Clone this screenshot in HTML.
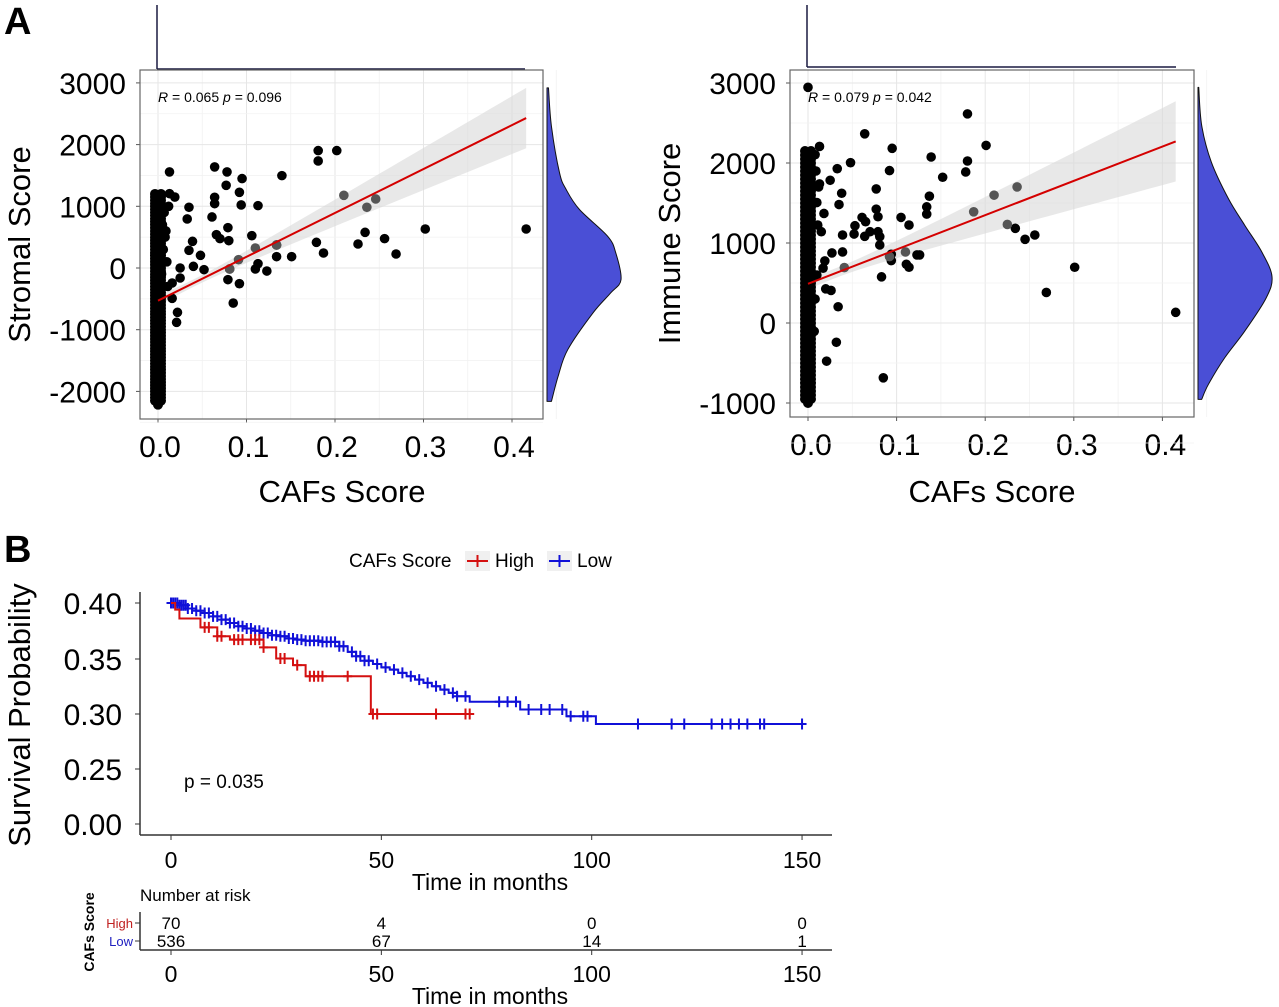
<!DOCTYPE html>
<html><head><meta charset="utf-8">
<style>
html,body{margin:0;padding:0;background:#fff;}
svg{display:block;font-family:"Liberation Sans",Arial,sans-serif;}
</style></head>
<body>
<svg id="fig" width="1279" height="1007" viewBox="0 0 1279 1007" xmlns="http://www.w3.org/2000/svg">
<text x="4" y="34" font-size="38" font-weight="bold">A</text>
<text x="4" y="562" font-size="38" font-weight="bold">B</text>
<g id="s1"></g>
<g id="s2"></g>
<g id="km"></g>
</svg>
<script>
// ---------- Scatter 1 data (Stromal) ----------
const s1X = [0.013,0.013,0.019,0.035,0.033,0.039,0.035,0.048,0.025,0.04,0.052,0.025,0.016,0.016,0.022,0.021,0.064,0.078,0.077,0.095,0.092,0.094,0.113,0.064,0.064,0.061,0.079,0.066,0.07,0.08,0.106,0.14,0.081,0.079,0.092,0.085,0.113,0.11,0.123,0.134,0.134,0.151,0.179,0.187,0.181,0.181,0.202,0.234,0.226,0.256,0.269,0.302,0.416,0.005,0.008,0.006,0.01,0.004,0.007,0.012,0.009,0.011];
const s1Y = [1557,1205,1150,984,795,432,286,205,0,27,-27,-162,-243,-492,-719,-881,1638,1557,1340,1449,1227,1022,1011,1146,1043,827,654,540,476,443,524,1497,-16,-189,-254,-568,70,-16,-49,373,184,184,416,243,1903,1735,1903,578,389,476,227,632,632,700,500,300,100,-100,900,1000,600,-300];
const s1GrayX = [0.11,0.134,0.091,0.081,0.21,0.236,0.246];
const s1GrayY = [324,373,135,-16,1178,984,1119];
const s1ColY = [1200,1150,1100,1050,1000,950,900,850,800,750,700,650,600,550,500,450,400,350,300,250,200,150,100,50,0,-50,-100,-150,-200,-250,-300,-350,-400,-450,-500,-550,-600,-650,-700,-750,-800,-850,-900,-950,-1000,-1050,-1100,-1150,-1200,-1250,-1300,-1350,-1400,-1450,-1500,-1550,-1600,-1650,-1700,-1750,-1800,-1850,-1900,-1950,-2000,-2050,-2100,-2150];
const s1Fit = [-530,2430];
const s1DensY = [2919,2297,1540,1270,946,514,243,-189,-405,-730,-1324,-1757,-2162];
const s1DensW = [0.02,0.06,0.17,0.26,0.44,0.82,0.93,1.0,0.86,0.62,0.28,0.15,0.06];
const s1YTicks = [3000,2000,1000,0,-1000,-2000];
const s1XTicks = [0.0,0.1,0.2,0.3,0.4];

// ---------- Scatter 2 data (Immune) ----------
const s2X = [0,0.18,0.064,0.013,0.008,0.095,0.201,0.048,0.033,0.092,0.139,0.18,0.178,0.152,0.025,0.013,0.077,0.038,0.137,0.035,0.01,0.018,0.077,0.079,0.134,0.134,0.061,0.065,0.105,0.114,0.053,0.052,0.064,0.07,0.079,0.081,0.039,0.011,0.015,0.081,0.027,0.039,0.094,0.094,0.123,0.126,0.111,0.114,0.083,0.019,0.017,0.02,0.026,0.034,0.032,0.021,0.085,0.234,0.245,0.256,0.301,0.269,0.415,0.007,0.008,0.01,0.012,0.009];
const s2Y = [2946,2614,2365,2207,2104,2183,2220,2004,1929,1905,2075,2025,1888,1822,1784,1739,1676,1622,1585,1481,1506,1369,1423,1328,1452,1361,1320,1266,1320,1224,1216,1112,1083,1141,1141,1079,1100,1224,1141,975,876,888,859,780,851,851,734,697,577,776,685,427,407,203,-241,-477,-685,1183,1046,1100,697,382,133,-104,300,600,1700,1900];
const s2GrayX = [0.11,0.041,0.187,0.21,0.236,0.225,0.092];
const s2GrayY = [888,693,1390,1598,1701,1232,830];
const s2ColY = [2150,2100,2050,2000,1950,1900,1850,1800,1750,1700,1650,1600,1550,1500,1450,1400,1350,1300,1250,1200,1150,1100,1050,1000,950,900,850,800,750,700,650,600,550,500,450,400,350,300,250,200,150,100,50,0,-50,-100,-150,-200,-250,-300,-350,-400,-450,-500,-550,-600,-650,-700,-750,-800,-850,-900,-950];
const s2Fit = [490,2270];
const s2DensY = [2946,2469,2012,1556,1224,892,581,311,-104,-436,-768,-954];
const s2DensW = [0.01,0.05,0.18,0.41,0.63,0.86,1.0,0.92,0.63,0.36,0.14,0.05];
const s2YTicks = [3000,2000,1000,0,-1000];
const s2XTicks = [0.0,0.1,0.2,0.3,0.4];

// ---------- KM data ----------
const kmYTickLabels = ["0.40","0.35","0.30","0.25","0.00"];
const kmXTicks = [0,50,100,150];
const redT = [0,1,2,7,11,14,22,25,29,32,47.5,72];
const redS = [0.400,0.394,0.386,0.378,0.370,0.367,0.360,0.350,0.344,0.334,0.300,0.300];
const redCens = [8,9,11,12,15,16,17,19,20,21,22,26,27,30,33,34,35,36,42,48,49,63,70,71];
const blueT = [0,2,4,6,8,10,12,14,16,18,20,22,24,26,28,30,32,34,36,38,40,42,44,46,48,50,52,54,56,58,60,62,64,66,68,71,83,94,101,150];
const blueS = [0.400,0.398,0.395,0.393,0.391,0.388,0.385,0.382,0.379,0.377,0.375,0.373,0.371,0.370,0.368,0.367,0.366,0.366,0.365,0.365,0.361,0.356,0.352,0.348,0.345,0.342,0.340,0.337,0.334,0.331,0.328,0.325,0.322,0.319,0.316,0.311,0.304,0.298,0.291,0.291];
const blueCens = [0,0.5,1,1.5,2,2.5,3,3.5,4,5,6,7,8,9,10,11,12,13,14,15,16,17,18,19,20,21,22,23,24,25,26,27,28,29,30,31,32,33,34,35,36,37,38,39,40,41,43,44,45,46,47,49,51,53,55,57,59,61,63,65,67,68,70,78,80,82,85,88,90,93,95,98,99,111,119,122,128.5,131,133,135,137,140,141,150];
const riskHigh = ["70","4","0","0"];
const riskLow = ["536","67","14","1"];

const NS="http://www.w3.org/2000/svg";
function mk(parent,tag,attrs,text){const e=document.createElementNS(NS,tag);for(const k in attrs)e.setAttribute(k,attrs[k]);if(text!==undefined)e.textContent=text;parent.appendChild(e);return e;}

function smoothPath(pts){
  let d=`M${pts[0][0]},${pts[0][1]}`;
  for(let i=0;i<pts.length-1;i++){
    const p0=pts[Math.max(0,i-1)],p1=pts[i],p2=pts[i+1],p3=pts[Math.min(pts.length-1,i+2)];
    const c1=[p1[0]+(p2[0]-p0[0])/6,p1[1]+(p2[1]-p0[1])/6];
    const c2=[p2[0]-(p3[0]-p1[0])/6,p2[1]-(p3[1]-p1[1])/6];
    d+=` C${c1[0]},${c1[1]} ${c2[0]},${c2[1]} ${p2[0]},${p2[1]}`;
  }
  return d;
}

function scatter(g,cfg){
  const xs=v=>cfg.x0+v*cfg.xk, ys=v=>cfg.y0-v*cfg.yk;
  const tm=mk(g,'path',{d:`M${cfg.x0-1},${cfg.top[0]} L${cfg.x0-1},${cfg.top[1]} M${cfg.x0-1},${cfg.top[1]} L${cfg.top[2]},${cfg.top[1]}`,stroke:'#1a1a40',fill:'none','stroke-width':1.5});
  
  
  const bg=mk(g,'rect',{x:cfg.L,y:cfg.T,width:cfg.R-cfg.L,height:cfg.B-cfg.T,fill:'#fff'});
  
  
  for(let i=0;i<cfg.xt.length;i++){
    mk(g,'line',{x1:xs(cfg.xt[i]),x2:xs(cfg.xt[i]),y1:cfg.T,y2:cfg.B,stroke:'#e6e6e6','stroke-width':1});
    mk(g,'line',{x1:xs(cfg.xt[i]+0.05),x2:xs(cfg.xt[i]+0.05),y1:cfg.T,y2:cfg.B,stroke:'#f2f2f2','stroke-width':0.8});
    mk(g,'line',{x1:xs(cfg.xt[i]),x2:xs(cfg.xt[i]),y1:cfg.B,y2:cfg.B+4,stroke:'#555'});
    const t=mk(g,'text',{x:xs(cfg.xt[i])+cfg.xlOff,y:cfg.B+38,'font-size':30,'text-anchor':'middle'},cfg.xt[i].toFixed(1));
    
    
  }
  for(let i=0;i<cfg.yt.length;i++){
    mk(g,'line',{x1:cfg.L,x2:cfg.R,y1:ys(cfg.yt[i]),y2:ys(cfg.yt[i]),stroke:'#e6e6e6'});
    mk(g,'line',{x1:cfg.L,x2:cfg.R,y1:ys(cfg.yt[i]-500),y2:ys(cfg.yt[i]-500),stroke:'#f2f2f2','stroke-width':0.8});
    mk(g,'line',{x1:cfg.L-4,x2:cfg.L,y1:ys(cfg.yt[i]),y2:ys(cfg.yt[i]),stroke:'#555'});
    const t=mk(g,'text',{x:cfg.L-14,y:ys(cfg.yt[i])+11,'font-size':30,'text-anchor':'end'},String(cfg.yt[i]));
    
    
  }
  const x1=cfg.fitX, n=30; let up=[],lo=[];
  for(let i=0;i<=n;i++){const xv=x1*i/n; const yv=cfg.fit[0]+(cfg.fit[1]-cfg.fit[0])*xv/x1; const hw=Math.sqrt(60*60+Math.pow(1293*(xv-cfg.xm),2)); up.push(`${xs(xv)},${ys(yv+hw)}`);lo.unshift(`${xs(xv)},${ys(yv-hw)}`);}
  const band=mk(g,'polygon',{points:up.concat(lo).join(' '),fill:'#d9d9d9','fill-opacity':0.6});
  
  
  const offs=[-3,0,3];
  for(let i=0;i<cfg.col.length;i++){
    for(const o of offs){
      const c=mk(g,'circle',{cx:xs(0)+o,cy:ys(cfg.col[i])+(o===0?4:0),r:5,fill:'#000'});
      
      
    }
  }
  for(let i=0;i<cfg.px.length;i++){const c=mk(g,'circle',{cx:xs(cfg.px[i]),cy:ys(cfg.py[i]),r:4.8,fill:'#000'});
    
    }
  for(let i=0;i<cfg.gx.length;i++){const c=mk(g,'circle',{cx:xs(cfg.gx[i]),cy:ys(cfg.gy[i]),r:4.8,fill:'#555'});
    
    }
  const fl=mk(g,'line',{x1:xs(0),y1:ys(cfg.fit[0]),x2:xs(x1),y2:ys(cfg.fit[1]),stroke:'#d40000','stroke-width':2});
  
  
  const pb=mk(g,'rect',{x:cfg.L,y:cfg.T,width:cfg.R-cfg.L,height:cfg.B-cfg.T,fill:'none',stroke:'#666','stroke-width':1.2});
  
  
  const st=mk(g,'text',{x:cfg.L+18,y:cfg.T+32,'font-size':14},'');
  
  
  st.innerHTML=`<tspan font-style="italic">R</tspan> = ${cfg.r} <tspan font-style="italic">p</tspan> = ${cfg.p}`;
  const pts=[];
  for(let i=0;i<cfg.dy.length;i++) pts.push([cfg.dx+cfg.dw[i]*74,ys(cfg.dy[i])]);
  let d=`M${cfg.dx},${ys(cfg.dy[0])} L`+smoothPath(pts).slice(1)+` L${cfg.dx},${ys(cfg.dy[cfg.dy.length-1])} Z`;
  const dp=mk(g,'path',{d:d,fill:'#4a4fd6',stroke:'#111','stroke-width':1,'stroke-linejoin':'round'});
  
  
  const xt=mk(g,'text',{x:cfg.xtitle,y:502,'font-size':31,'text-anchor':'middle'},'CAFs Score');
  
  
  const yt=mk(g,'text',{x:0,y:0,'font-size':31,'text-anchor':'middle',transform:`translate(${cfg.ytx},${(cfg.T+cfg.B)/2}) rotate(-90)`},cfg.ytitle);
  
  
}

scatter(document.getElementById('s1'),{L:140,R:543,T:70,B:419,x0:158,xk:885,y0:268,yk:0.0617,xt:s1XTicks,yt:s1YTicks,xlOff:2,
  px:s1X,py:s1Y,gx:s1GrayX,gy:s1GrayY,col:s1ColY,fit:s1Fit,fitX:0.416,xm:0.04,r:'0.065',p:'0.096',
  dx:547,dy:s1DensY,dw:s1DensW,top:[5,69,525],xtitle:342,ytitle:'Stromal Score',ytx:30});
scatter(document.getElementById('s2'),{L:790,R:1194,T:70,B:417,x0:808,xk:886,y0:323,yk:0.080,xt:s2XTicks,yt:s2YTicks,xlOff:3,
  px:s2X,py:s2Y,gx:s2GrayX,gy:s2GrayY,col:s2ColY,fit:s2Fit,fitX:0.415,xm:0.03,r:'0.079',p:'0.042',
  dx:1198,dy:s2DensY,dw:s2DensW,top:[5,67,1176],xtitle:992,ytitle:'Immune Score',ytx:680});

// ---------- KM ----------
(function(){
  const g=document.getElementById('km');
  const tx=t=>171+t*4.207;
  const sy=s=>603+(0.40-s)*1110;
  const lbY=[603,659,714,769,824];
  mk(g,'line',{x1:140,x2:140,y1:592,y2:835,stroke:'#333','stroke-width':1.5});
  mk(g,'line',{x1:140,x2:832,y1:835,y2:835,stroke:'#333','stroke-width':1.5});
  for(let i=0;i<kmYTickLabels.length;i++){
    mk(g,'line',{x1:135,x2:140,y1:lbY[i],y2:lbY[i],stroke:'#333'});
    const t=mk(g,'text',{x:122,y:lbY[i]+11,'font-size':30,'text-anchor':'end'},kmYTickLabels[i]);
    
    
  }
  for(let i=0;i<kmXTicks.length;i++){
    mk(g,'line',{x1:tx(kmXTicks[i]),x2:tx(kmXTicks[i]),y1:835,y2:840,stroke:'#333'});
    const t=mk(g,'text',{x:tx(kmXTicks[i]),y:868,'font-size':23,'text-anchor':'middle'},String(kmXTicks[i]));
    
    
    const r=mk(g,'text',{x:tx(kmXTicks[i]),y:929,'font-size':17,'text-anchor':'middle'},riskHigh[i]);
    
    
    const r2=mk(g,'text',{x:tx(kmXTicks[i]),y:947,'font-size':17,'text-anchor':'middle'},riskLow[i]);
    
    
    mk(g,'line',{x1:tx(kmXTicks[i]),x2:tx(kmXTicks[i]),y1:950,y2:955,stroke:'#333'});
    const t2=mk(g,'text',{x:tx(kmXTicks[i]),y:982,'font-size':23,'text-anchor':'middle'},String(kmXTicks[i]));
    
    
  }
  function stepAt(T,S,t){let s=S[0];for(let i=0;i<T.length;i++){if(T[i]<=t)s=S[i];}return s;}
  function curve(T,S,C,color,name){
    let d=`M${tx(T[0])},${sy(S[0])}`;
    for(let i=1;i<T.length;i++){d+=` H${tx(T[i])} V${sy(S[i])}`;}
    const p=mk(g,'path',{d:d,fill:'none',stroke:color,'stroke-width':2});
    
    
    for(const c of C){const x=tx(c),y=sy(stepAt(T,S,c));
      const m=mk(g,'path',{d:`M${x-4.5},${y} H${x+4.5} M${x},${y-5.5} V${y+5.5}`,stroke:color,'stroke-width':2});
      
      }
  }
  curve(blueT,blueS,blueCens,'#1010d8','low');
  curve(redT,redS,redCens,'#d41010','high');
  const p=mk(g,'text',{x:184,y:788,'font-size':19},'p = 0.035');
  
  
  const yt=mk(g,'text',{x:0,y:0,'font-size':31,'text-anchor':'middle',transform:'translate(30,715) rotate(-90)'},'Survival Probability');
  
  
  const xt=mk(g,'text',{x:490,y:890,'font-size':23,'text-anchor':'middle'},'Time in months');
  
  
  const lg=mk(g,'g',{});
  
  
  mk(lg,'text',{x:349,y:567,'font-size':19},'CAFs Score');
  mk(lg,'rect',{x:465,y:551,width:25,height:20,fill:'#f0f0f0'});
  mk(lg,'path',{d:'M467,561 H488 M477.5,555 V567',stroke:'#d41010','stroke-width':2});
  const hi=mk(lg,'text',{x:495,y:567,'font-size':19},'High');
  
  
  mk(lg,'rect',{x:547,y:551,width:25,height:20,fill:'#f0f0f0'});
  mk(lg,'path',{d:'M549,561 H570 M559.5,555 V567',stroke:'#1010d8','stroke-width':2});
  const lo=mk(lg,'text',{x:577,y:567,'font-size':19},'Low');
  
  
  const nr=mk(g,'text',{x:140,y:901,'font-size':17},'Number at risk');
  
  
  mk(g,'line',{x1:140,x2:140,y1:912,y2:950,stroke:'#333','stroke-width':1.5});
  mk(g,'line',{x1:140,x2:832,y1:950,y2:950,stroke:'#333','stroke-width':1.5});
  mk(g,'line',{x1:135,x2:140,y1:923,y2:923,stroke:'#333'});
  mk(g,'line',{x1:135,x2:140,y1:941,y2:941,stroke:'#333'});
  const h=mk(g,'text',{x:133,y:928,'font-size':13,'text-anchor':'end',fill:'#c02020'},'High');
  
  
  const l=mk(g,'text',{x:133,y:946,'font-size':13,'text-anchor':'end',fill:'#2020c0'},'Low');
  
  
  const cs=mk(g,'text',{x:0,y:0,'font-size':14,'font-weight':'bold','text-anchor':'middle',transform:'translate(94,932) rotate(-90)'},'CAFs Score');
  
  
  const xt2=mk(g,'text',{x:490,y:1004,'font-size':23,'text-anchor':'middle'},'Time in months');
  
  
})();
</script>
</body></html>
